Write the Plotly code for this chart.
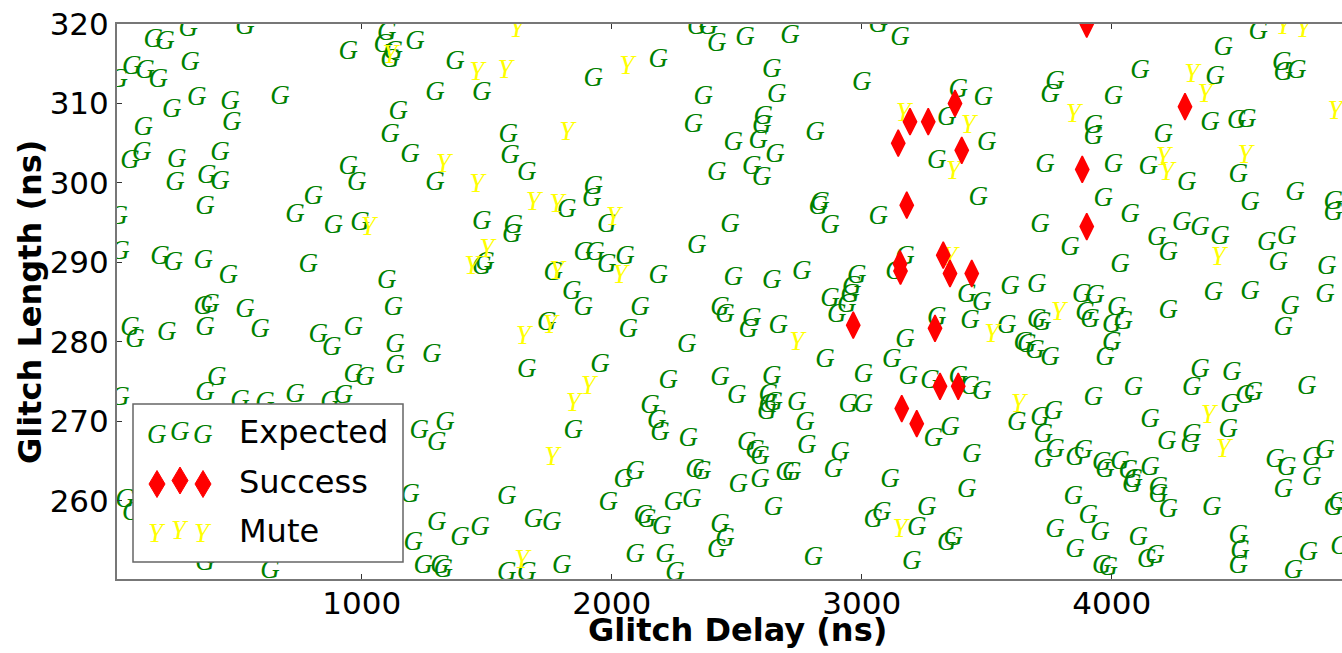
import plotly.graph_objects as go

# ---------------- data ----------------
expected_x = [306, 533, 166, 213, 946, 1100, 1086, 1126, 1113, 1213, 80, 133, 186, 26, 313, 340, 473, 673, 240, 480,
              126, 120, 73, 260, 433, 253, 380, 433, 373, 26, 33, 193, 246, 366, 466, 786, 733, 806, 886, 993,
              946, 980, 1146, 1113, 1193, 1100, 366, 393, 533, 73, 93, 220, 373, 593, 826, 880, 966, 1126, 1133, 1133,
              966, 1013, 420, 373, 33, 733, 926, 513, 613, 873, 1230, 1193, 1206, 373, 633, 53, 80,
              1373, 1293, 1480, 1926, 2186, 2340, 2386, 2420, 2366, 2326, 1586, 1593, 1660, 1293, 1820, 1926, 1920, 2420,
              1480, 1606, 1600, 1980, 1480, 1493, 2340, 1886, 1933, 1980, 2053, 1766, 2186, 1840,
              2533, 2713, 3066, 3153, 2640, 3000, 2660, 2606, 2600, 2486, 2586, 2653, 2560, 2600, 2813, 2833, 2826, 2873,
              3066, 2473, 2486, 2640, 2760, 2980, 2960, 3133, 3173, 3420, 3593, 3386, 3340, 3486, 3500, 3300, 3466,
              4586, 4446, 4113, 4413, 4680, 4686, 4740, 3773, 3753, 4006, 3926, 3926, 4393, 4500, 4540, 4206, 3733, 4006,
              4146, 4300, 4506, 3966, 4073, 3713, 3833, 4553, 4733, 4886, 4886, 4280, 4353, 4433, 4180, 4226, 4620, 4700,
              4666, 4033, 4860, 3700, 3880, 3933, 4406, 4553, 4853,
              1886, 2113, 2066, 2300, 2433, 2226, 1740, 1280, 1660, 1953, 1846, 1333, 1300, 2153, 2180, 2193, 2306,
              2046, 2093, 2333, 2360, 1986, 2246, 2320, 2126, 2140, 2200, 1580, 1686, 1760, 1300, 1393, 1473,
              1246, 1313, 1326, 1580, 1660, 1800, 2093, 2213, 2253,
              2873, 2953, 2940, 2900, 2433, 2453, 2560, 2546, 2666, 2853, 2500, 2640, 2626, 2626, 2646, 2620, 2740, 2773,
              3006, 2946, 3006, 3173, 3120, 3186, 3300, 3273, 3386, 3433, 3480, 3286, 3353, 3440, 3420, 3433, 3580, 3646,
              3620, 3480, 2540, 2573, 2593, 2780, 2913, 2886, 2693, 2720, 2593, 2506, 2646, 3113, 3260, 3046, 3080, 3220,
              3340, 3366, 3200, 2806, 2433, 2453, 2420,
              4713, 4686, 4226, 3893, 3913, 4020, 4046, 4000, 3700, 3720, 4000, 3973, 3660, 3693, 3753, 4353, 4480, 4320,
              4780, 4086, 3926, 4566, 4533, 4473, 4466, 4153, 4220, 4320, 4313, 3766, 3713, 3726, 3773, 3726, 3853, 3886,
              3960, 3973, 4033, 4066, 4086, 4080, 4153, 4186, 4186, 4226, 4653, 4700, 4800, 4853, 4800, 4686, 4886, 4906,
              4400, 3846, 3906, 3773, 3953, 3853, 4106, 4140, 4173, 3960, 3986, 4506, 4513, 4506, 4786, 4726, 4913]
expected_y = [319.4, 319.6, 318.0, 317.7, 316.5, 318.8, 317.3, 316.5, 315.4, 317.7, 314.6, 314.0, 312.9, 312.9, 315.0,
              310.6, 310.2, 310.8, 309.2, 307.5, 306.9, 303.7, 302.7, 302.9, 303.7, 299.9, 300.8, 300.1, 297.0, 295.7,
              291.3, 290.7, 289.9, 290.1, 288.2, 289.7, 295.9, 298.2, 294.5, 294.9, 302.0, 299.9, 308.9, 306.0, 303.5,
              287.6, 284.4, 284.6, 284.0, 281.7, 280.2, 281.1, 281.7, 281.5, 280.8, 279.2, 281.7, 284.2, 279.6, 276.9,
              275.8, 275.4, 275.4, 273.5, 272.9, 273.3, 273.1, 272.5, 272.3, 272.4, 268.7, 260.7, 254.7, 252.1, 251.1,
              260.1, 258.4,
              315.2, 311.3, 311.3, 313.1, 315.4, 319.6, 319.6, 317.5, 310.8, 307.3, 306.0, 303.3, 301.2, 299.9, 296.6,
              299.5, 298.0, 301.2, 295.1, 294.5, 293.4, 294.7, 289.4, 289.9, 292.0, 291.1, 291.1, 289.7, 290.7, 288.6,
              288.2, 286.2,
              318.2, 318.4, 319.8, 318.2, 314.2, 312.5, 311.0, 308.3, 307.1, 305.0, 305.2, 303.5, 302.0, 300.6, 306.2,
              297.4, 297.0, 294.5, 295.7, 294.7, 288.0, 287.6, 288.8, 288.2, 286.9, 288.8, 290.7, 285.9, 286.9, 311.7,
              308.1, 310.6, 305.0, 302.7, 298.1,
              319.0, 316.9, 314.0, 313.3, 315.0, 313.8, 314.0, 312.7, 311.0, 310.8, 307.1, 305.8, 307.5, 307.7, 307.9,
              306.0, 302.2, 302.2, 302.0, 299.9, 301.0, 298.0, 295.9, 294.7, 291.8, 297.4, 298.7, 297.6, 296.2, 294.9,
              294.3, 293.2, 293.0, 291.1, 292.4, 293.2, 289.9, 289.7, 289.4, 287.1, 285.9, 285.7, 286.1, 286.3, 285.9,
              284.2, 284.2, 281.5, 279.6, 275.4, 275.0, 282.3, 278.3, 276.4, 277.1, 268.7, 269.7, 267.2, 271.9, 270.0,
              268.5, 267.8, 262.6, 263.6, 263.9, 263.6, 259.7, 259.7, 260.1, 258.0, 257.6, 256.7, 260.5, 257.6, 257.2,
              257.2, 255.3, 256.5, 251.7, 251.7, 251.3, 250.9, 250.9, 251.7, 253.2, 253.2, 250.9,
              285.3, 285.9, 284.6, 283.4, 284.2, 283.4, 282.9, 281.5, 281.9, 277.7, 273.1, 275.6, 273.3, 272.0, 272.3,
              271.2, 272.3, 269.8, 275.8, 272.0, 272.0, 280.2, 277.7, 275.6, 283.0, 275.0, 275.6, 274.3, 273.7, 267.8,
              269.1, 265.7, 261.3, 282.6, 281.9, 279.8, 269.7, 284.8, 267.2, 266.2, 265.5, 266.8, 266.0, 263.9, 263.4,
              263.4, 262.6, 262.0, 259.0, 262.6, 259.0, 257.6, 258.4, 256.5, 254.6, 255.3, 252.3, 252.7, 256.9, 255.2,
              253.8,
              284.4, 281.7, 283.8, 283.6, 282.7, 284.2, 282.5, 282.1, 282.7, 282.3, 279.8, 277.9, 279.6, 278.8, 277.9,
              276.4, 276.0, 274.1, 274.3, 274.1, 272.9, 273.5, 273.1, 272.0, 268.9, 270.1, 267.4, 268.3, 267.0, 271.2,
              270.4, 268.3, 266.4, 265.1, 265.3, 266.2, 264.7, 263.9, 264.9, 263.7, 262.6, 262.0, 264.1, 261.6, 260.7,
              258.8, 265.1, 264.1, 265.3, 266.2, 262.8, 261.3, 259.0, 259.7, 259.0, 260.5, 258.0, 256.3, 255.9, 253.8,
              255.3, 252.5, 253.0, 251.7, 251.5, 255.5, 253.6, 251.7, 253.4, 251.1, 254.2]

success_x = [3900, 3373, 3193, 3266, 3146, 3400, 3180, 3153, 3155, 3326, 3353, 3440, 2966, 3293, 3313, 3386,
             3160, 3220, 4293, 3882, 3900]
success_y = [320.0, 310.0, 307.7, 307.7, 305.0, 304.1, 297.2, 289.8, 288.9, 290.9, 288.6, 288.6, 282.1, 281.7,
             274.4, 274.4, 271.6, 269.7, 309.6, 301.7, 294.5]

mute_x = [1113, 1026, 1620, 1460, 1573, 2060, 1820, 1326, 1460, 1686, 1780, 2006, 1500, 1440, 2033, 1780,
          3426, 3366, 3166, 3353, 4686, 4766, 4320, 4373, 3846, 4893, 4206, 4220, 4533, 4426,
          1753, 1646, 1906, 1846, 1760, 1640, 2740, 3153, 3520, 3626, 3786, 4386, 4446]
mute_y = [315.9, 294.3, 319.2, 313.8, 314.0, 314.6, 306.2, 302.2, 299.7, 297.4, 297.2, 295.5, 291.5, 289.4, 288.2,
          288.8, 307.1, 301.4, 308.7, 290.5, 319.6, 319.2, 313.6, 311.0, 308.5, 308.9, 303.1, 301.2, 303.3, 290.5,
          281.9, 280.6, 274.3, 272.2, 265.3, 252.4, 279.8, 256.3, 280.8, 272.0, 283.6, 270.6, 266.4]

x_ticks = [1000, 2000, 3000, 4000]
y_ticks = [260, 270, 280, 290, 300, 310, 320]
legend_labels = ["Expected", "Success", "Mute"]

# ---------------- layout geometry ----------------
W, H = 1342, 653
ML, MR, MT, MB = 117, 0, 24, 74
PW, PH = W - ML - MR, H - MT - MB


def px2paper(px, py):
    return (px - ML) / PW, (H - MB - py) / PH


GREEN = "#008000"
YELLOW = "#ffff00"
RED = "#ff0000"
SERIF_IT = dict(family="Liberation Serif", size=27, style="italic")

fig = go.Figure()
fig.add_trace(go.Scatter(x=expected_x, y=expected_y, mode="text", text=["G"] * len(expected_x),
                         textposition="middle center", textfont=dict(color=GREEN, **SERIF_IT),
                         cliponaxis=True, hoverinfo="skip", showlegend=False))
fig.add_trace(go.Scatter(x=mute_x, y=mute_y, mode="text", text=["Y"] * len(mute_x),
                         textposition="middle center", textfont=dict(color=YELLOW, **SERIF_IT),
                         cliponaxis=True, hoverinfo="skip", showlegend=False))
fig.add_trace(go.Scatter(x=success_x, y=success_y, mode="markers",
                         marker=dict(symbol="diamond-tall", size=19, color=RED, line=dict(color=RED, width=1.5)),
                         cliponaxis=True, hoverinfo="skip", showlegend=False))

# ---------------- custom legend ----------------
shapes = []
x0, y0 = px2paper(133, 404)
x1, y1 = px2paper(403, 562)
shapes.append(dict(type="rect", xref="paper", yref="paper", x0=x0, y0=y1, x1=x1, y1=y0,
                   fillcolor="white", line=dict(color="#666666", width=1.5), layer="above"))

sym_x = [157, 180, 203]
sym_dy = [2, -1.5, 2]
row_y = [432, 482, 531]
annotations = []
for sx, dy in zip(sym_x, sym_dy):
    ax, ay = px2paper(sx, row_y[0] + dy)
    annotations.append(dict(x=ax, y=ay, xref="paper", yref="paper", text="G", showarrow=False,
                            xanchor="center", yanchor="middle",
                            font=dict(color=GREEN, family="Liberation Serif", size=27, style="italic")))
    cx, cy = sx, row_y[1] + dy
    hw, hh = 8, 13.5
    pts = [px2paper(cx, cy - hh), px2paper(cx + hw, cy), px2paper(cx, cy + hh), px2paper(cx - hw, cy)]
    path = "M{},{} L{},{} L{},{} L{},{} Z".format(*[v for p in pts for v in p])
    shapes.append(dict(type="path", xref="paper", yref="paper", path=path, fillcolor=RED,
                       line=dict(color=RED, width=1), layer="above"))
    ax, ay = px2paper(sx, row_y[2] + dy)
    annotations.append(dict(x=ax, y=ay, xref="paper", yref="paper", text="Y", showarrow=False,
                            xanchor="center", yanchor="middle",
                            font=dict(color=YELLOW, family="Liberation Serif", size=27, style="italic")))

for lab, ry in zip(legend_labels, row_y):
    ax, ay = px2paper(237, ry)
    annotations.append(dict(x=ax, y=ay, xref="paper", yref="paper", text=lab, showarrow=False,
                            xanchor="left", yanchor="middle",
                            font=dict(color="black", family="DejaVu Sans", size=32)))

# axis titles
ax, ay = px2paper(737, 630)
annotations.append(dict(x=ax, y=ay, xref="paper", yref="paper", text="<b>Glitch Delay (ns)</b>", showarrow=False,
                        xanchor="center", yanchor="middle", font=dict(color="black", family="DejaVu Sans", size=32)))
ax, ay = px2paper(30, 302)
annotations.append(dict(x=ax, y=ay, xref="paper", yref="paper", text="<b>Glitch Length (ns)</b>", showarrow=False,
                        textangle=-90, xanchor="center", yanchor="middle",
                        font=dict(color="black", family="DejaVu Sans", size=32)))

fig.update_layout(
    template="none",
    width=W, height=H,
    margin=dict(l=ML, r=MR, t=MT, b=MB, pad=0),
    paper_bgcolor="white", plot_bgcolor="white",
    showlegend=False,
    shapes=shapes,
    annotations=annotations,
    xaxis=dict(range=[21, 4921], tickvals=x_ticks, ticks="inside", ticklen=5, tickwidth=1, tickcolor="#333333",
               showline=True, linecolor="#777777", linewidth=2, mirror="allticks", ticklabelstandoff=-4,
               showgrid=False, zeroline=False, tickfont=dict(family="DejaVu Sans", size=31, color="black")),
    yaxis=dict(range=[250.15, 320], tickvals=y_ticks, ticks="inside", ticklen=5, tickwidth=1, tickcolor="#333333",
               showline=True, linecolor="#777777", linewidth=2, mirror=False,
               showgrid=False, zeroline=False, tickfont=dict(family="DejaVu Sans", size=31, color="black")),
)

fig.write_html("out.html")
